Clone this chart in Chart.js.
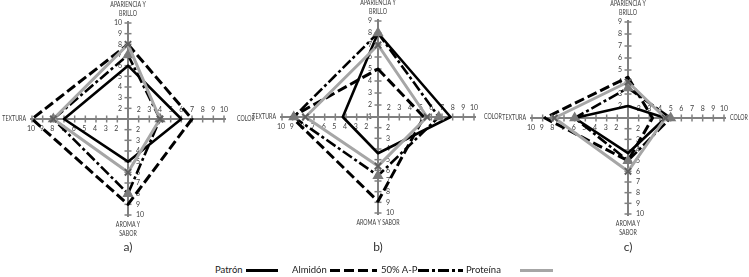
<!DOCTYPE html>
<html>
<head>
<meta charset="utf-8">
<script src="https://cdn.jsdelivr.net/npm/chart.js@4/dist/chart.umd.min.js"></script>
<style>
  html, body { margin: 0; padding: 0; background: #fff; }
  body { width: 749px; height: 277px; position: relative; overflow: hidden; font-family: Lato, "Open Sans", sans-serif; }
  .panel { position: absolute; top: 0; }
  .panel canvas { display: block; }
  .tag { position: absolute; top: 239px; width: 30px; margin-left: -15px; text-align: center; font-size: 12px; color: #333; line-height: 16px; }
  .leg { position: absolute; top: 263px; font-size: 9.5px; color: #222; line-height: 14px; white-space: nowrap; }
  .legline { position: absolute; top: 264px; }
</style>
</head>
<body>
<div class="panel" style="left:-10px"><canvas id="chartA" width="270" height="245"></canvas></div>
<div class="panel" style="left:240px"><canvas id="chartB" width="270" height="245"></canvas></div>
<div class="panel" style="left:490px"><canvas id="chartC" width="270" height="245"></canvas></div>
<div class="tag" style="left:128px">a)</div>
<div class="tag" style="left:378px">b)</div>
<div class="tag" style="left:628px">c)</div>

<div id="legend"></div>

<script>
// Sensory attributes, clockwise from the top
const attributes = ['APARIENCIA Y BRILLO', 'COLOR', 'AROMA Y SABOR', 'TEXTURA'];
const seriesNames = ['Patrón', 'Almidón', '50% A-P', 'Proteína'];

// Each axis starts at 1 in the centre
const axisMin = 1;

// a)
const axisMaxA = [10, 10, 10, 10];
const patronA = [6, 6, 5, 7];
const almidonA = [8, 7, 9, 10];
const mezclaA = [7, 4, 8, 8];
const proteinaA = [8, 4, 6, 8];

// b)
const axisMaxB = [9, 10, 10, 10];
const patronB = [8, 7.8, 4.4, 4.3];
const almidonB = [5, 5.3, 8.9, 9.1];
const mezclaB = [8, 6.7, 6.5, 8.9];
const proteinaB = [7, 5.6, 5.6, 7.8];

// c)
const axisMaxC = [9, 10, 10, 10];
const patronC = [2, 4.5, 4.3, 6];
const almidonC = [4.4, 3.3, 5, 8.8];
const mezclaC = [3.5, 5, 5, 6];
const proteinaC = [4, 4.5, 6, 7.9];

// Axis captions (split over lines as printed)
const titlesTwoLine = [['APARIENCIA Y', 'BRILLO'], ['COLOR'], ['AROMA Y', 'SABOR'], ['TEXTURA']];
const titlesB = [['APARIENCIA Y', 'BRILLO'], ['COLOR'], ['AROMA Y SABOR'], ['TEXTURA']];

// First numbered tick on each axis
const firstLabelA = [2, 2, 2, 2];
const firstLabelB = [1, 2, 2, 2];
const firstLabelC = [2, 2, 2, 2];

const FONT = 'Lato, "Open Sans", sans-serif';
const AXIS_GREY = '#808080';
const TEXT_GREY = '#404040';

const styles = [
  { color: '#000000', width: 2.6, dash: [], point: false, order: 4 },
  { color: '#000000', width: 3, dash: [10, 4], point: false, order: 3 },
  { color: '#000000', width: 2.6, dash: [11, 3, 3, 3], point: 'triangle', pointColor: '#7a7a7a', order: 2 },
  { color: '#a6a6a6', width: 3, dash: [], point: 'crossRot', pointColor: '#5f5f5f', order: 1 }
];

// Narrow caption text
function caption(ctx, s, x, y, align) {
  const sx = 0.76;
  ctx.save();
  ctx.translate(x, y);
  ctx.scale(sx, 1);
  ctx.textAlign = align;
  ctx.textBaseline = 'middle';
  ctx.fillText(s, 0, 0);
  ctx.restore();
}

// Crosshair axes with integer ticks, numbers and captions
const axisFrame = {
  id: 'axisFrame',
  beforeDatasetsDraw(chart) {
    const o = chart.options.plugins.axisFrame;
    const r = chart.scales.r;
    const ctx = chart.ctx;
    ctx.save();
    for (let i = 0; i < attributes.length; i++) {
      const max = o.axisMax[i];
      const span = max - axisMin;
      const c = r.getPointPosition(i, 0);
      const end = r.getPointPosition(i, r.drawingArea + 2);
      const vertical = (i % 2 === 0);
      ctx.strokeStyle = AXIS_GREY;
      ctx.lineWidth = 2;
      ctx.setLineDash([]);
      ctx.beginPath();
      ctx.moveTo(c.x, c.y);
      ctx.lineTo(end.x, end.y);
      ctx.stroke();

      ctx.lineWidth = 1.5;
      ctx.font = '7px ' + FONT;
      ctx.fillStyle = TEXT_GREY;
      for (let t = axisMin; t <= max; t++) {
        const p = r.getPointPositionForValue(i, (t - axisMin) / span);
        if (t > axisMin) {
          ctx.beginPath();
          if (vertical) { ctx.moveTo(p.x - 3.5, p.y); ctx.lineTo(p.x + 3.5, p.y); }
          else { ctx.moveTo(p.x, p.y - 3.5); ctx.lineTo(p.x, p.y + 3.5); }
          ctx.stroke();
        }
        if (t < o.firstLabel[i]) continue;
        const txt = String(t);
        if (i === 0) { ctx.textAlign = 'right'; ctx.textBaseline = 'middle'; ctx.fillText(txt, p.x - 6, p.y); }
        else if (i === 1) { ctx.textAlign = 'center'; ctx.textBaseline = 'middle'; ctx.fillText(txt, p.x, p.y - 9); }
        else if (i === 2) { ctx.textAlign = 'left'; ctx.textBaseline = 'middle'; ctx.fillText(txt, p.x + 8, p.y); }
        else { ctx.textAlign = 'center'; ctx.textBaseline = 'middle'; ctx.fillText(txt, p.x - 1, p.y + 10); }
      }

      // caption
      ctx.font = '7px ' + FONT;
      ctx.fillStyle = TEXT_GREY;
      const lines = o.titles[i];
      if (i === 0) {
        lines.forEach((s, k) => caption(ctx, s, end.x, end.y - 7 - 9 * (lines.length - 1 - k), 'center'));
      } else if (i === 1) {
        caption(ctx, lines[0], end.x + o.rightGap, end.y, 'left');
      } else if (i === 2) {
        lines.forEach((s, k) => caption(ctx, s, end.x, end.y + 8 + 9 * k, 'center'));
      } else {
        caption(ctx, lines[0], end.x - 4, end.y, 'right');
      }
    }
    ctx.restore();
  }
};

function buildPanel(id, cy, axisMax, series, titles, firstLabel, rightGap) {
  const H = 245, W = 270, R = 96, cx = 138;
  const datasets = series.map((vals, k) => {
    const s = styles[k];
    return {
      label: seriesNames[k],
      data: vals.map((v, i) => (v - axisMin) / (axisMax[i] - axisMin)),
      borderColor: s.color,
      borderWidth: s.width,
      borderDash: s.dash,
      borderJoinStyle: 'round',
      fill: false,
      order: s.order,
      pointStyle: s.point || 'circle',
      pointRadius: s.point ? 4.5 : 0,
      pointBorderColor: s.pointColor || s.color,
      pointBackgroundColor: s.pointColor || s.color,
      pointBorderWidth: 2,
      clip: false
    };
  });
  return new Chart(document.getElementById(id), {
    type: 'radar',
    data: { labels: attributes, datasets },
    options: {
      responsive: false,
      animation: false,
      layout: { padding: { left: cx - R, right: W - cx - R, top: cy - R, bottom: H - cy - R } },
      elements: { line: { tension: 0 } },
      scales: {
        r: {
          min: 0, max: 1,
          grid: { display: false },
          angleLines: { display: false },
          ticks: { display: false },
          pointLabels: { display: false }
        }
      },
      plugins: {
        legend: { display: false },
        tooltip: { enabled: false },
        axisFrame: { axisMax, titles, firstLabel, rightGap }
      }
    },
    plugins: [axisFrame]
  });
}

buildPanel('chartA', 119, axisMaxA, [patronA, almidonA, mezclaA, proteinaA], titlesTwoLine, firstLabelA, 11);
buildPanel('chartB', 117, axisMaxB, [patronB, almidonB, mezclaB, proteinaB], titlesB, firstLabelB, 8);
buildPanel('chartC', 118, axisMaxC, [patronC, almidonC, mezclaC, proteinaC], titlesTwoLine, firstLabelC, 4);

// Legend: name followed by its line sample
const legendPos = [
  { text: 215, line: 246, len: 32 },
  { text: 292, line: 330, len: 47 },
  { text: 381, line: 418, len: 45 },
  { text: 466, line: 520, len: 33 }
];
const legend = document.getElementById('legend');
seriesNames.forEach((name, k) => {
  const s = styles[k];
  const t = document.createElement('div');
  t.className = 'leg';
  t.style.left = legendPos[k].text + 'px';
  t.textContent = name;
  legend.appendChild(t);
  const c = document.createElement('canvas');
  c.className = 'legline';
  c.width = legendPos[k].len; c.height = 12;
  c.style.left = legendPos[k].line + 'px';
  const g = c.getContext('2d');
  g.strokeStyle = s.color;
  g.lineWidth = 3;
  g.setLineDash(s.dash);
  g.beginPath(); g.moveTo(0, 6.5); g.lineTo(c.width, 6.5); g.stroke();
  legend.appendChild(c);
});
</script>
</body>
</html>
